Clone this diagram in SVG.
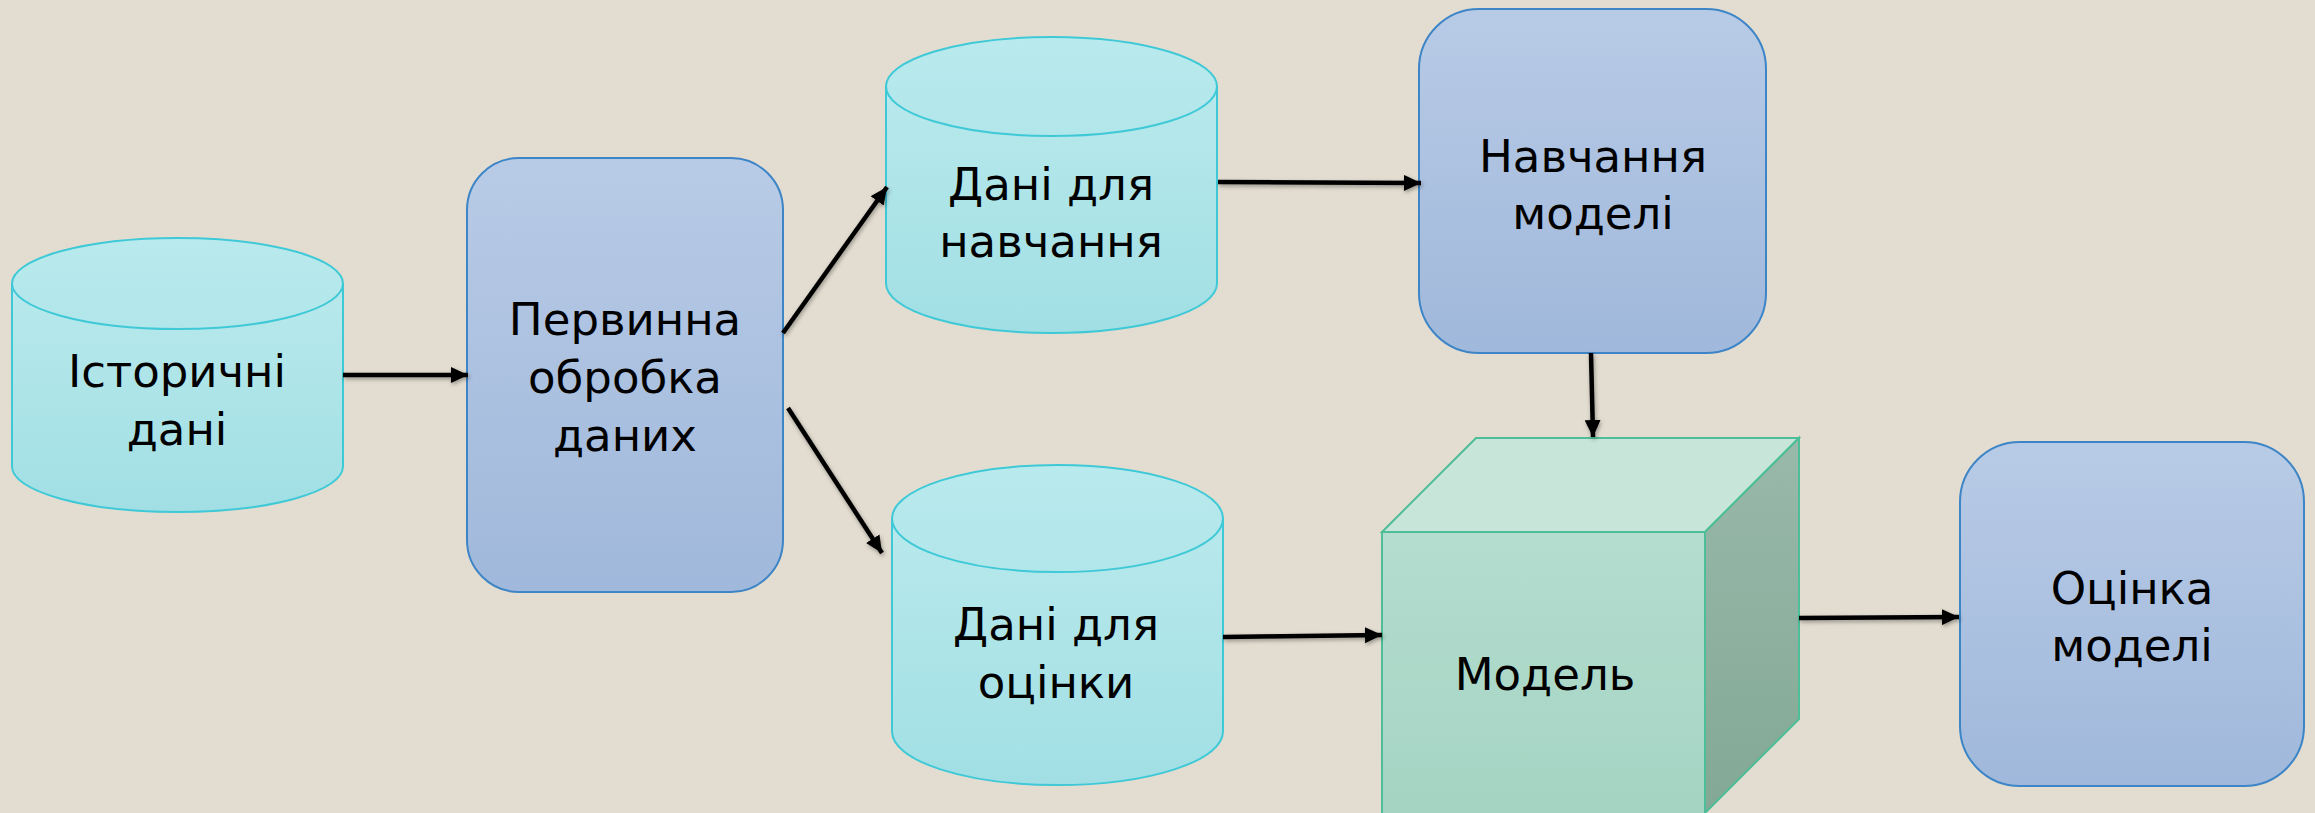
<svg xmlns="http://www.w3.org/2000/svg" width="2315" height="813" viewBox="0 0 2315 813">
  <defs>
    <linearGradient id="gCyl" x1="0" y1="0" x2="0" y2="1">
      <stop offset="0" stop-color="#B8E9EC"/>
      <stop offset="1" stop-color="#A1DFE4"/>
    </linearGradient>
    <linearGradient id="gCylTop" x1="0" y1="0" x2="0" y2="1">
      <stop offset="0" stop-color="#B9EAED"/>
      <stop offset="1" stop-color="#B1E6EA"/>
    </linearGradient>
    <linearGradient id="gBox" x1="0" y1="0" x2="0" y2="1">
      <stop offset="0" stop-color="#B8CBE6"/>
      <stop offset="1" stop-color="#A0B8DB"/>
    </linearGradient>
    <linearGradient id="gFront" x1="0" y1="0" x2="0" y2="1">
      <stop offset="0" stop-color="#B4DDCF"/>
      <stop offset="1" stop-color="#A5D4C3"/>
    </linearGradient>
    <linearGradient id="gSide" x1="0" y1="0" x2="0" y2="1">
      <stop offset="0" stop-color="#99B9AB"/>
      <stop offset="1" stop-color="#83A895"/>
    </linearGradient>
    <marker id="arrow" markerUnits="userSpaceOnUse" markerWidth="20" markerHeight="16" refX="17" refY="8" orient="auto">
      <path d="M0,0 L17,8 L0,16 Z" fill="#000"/>
    </marker>
    <filter id="shadow" x="-20%" y="-20%" width="140%" height="140%">
      <feDropShadow dx="1" dy="2" stdDeviation="2" flood-color="#000" flood-opacity="0.35"/>
    </filter>
  </defs>
  <style>
    .cyl { fill: url(#gCyl); stroke: #3FC9D7; stroke-width: 2; }
    .cyltop { fill: url(#gCylTop); stroke: #3FC9D7; stroke-width: 2; }
    .box { fill: url(#gBox); stroke: #3D85C6; stroke-width: 2; }
    .front { fill: url(#gFront); stroke: #4DBE97; stroke-width: 2; }
    .top { fill: #C8E5DA; stroke: #4DBE97; stroke-width: 2; }
    .side { fill: url(#gSide); stroke: #4DBE97; stroke-width: 2; }
    .lbl { font-family: "DejaVu Sans", "Liberation Sans", sans-serif; font-size: 45px; fill: #000; text-anchor: middle; }
    .edge { stroke: #000; stroke-width: 4.5; fill: none; marker-end: url(#arrow); }
  </style>

  <rect width="2315" height="813" fill="#E3DDD1"/>

  <!-- Historical data store -->
  <g id="historical-data">
    <path class="cyl" d="M12,283.5 L12,466.5 A165.5,45.5 0 0 0 343,466.5 L343,283.5 Z"/>
    <ellipse class="cyltop" cx="177.5" cy="283.5" rx="165.5" ry="45.5"/>
    <text class="lbl" x="177" y="387">Історичні</text>
    <text class="lbl" x="177" y="445">дані</text>
  </g>

  <!-- Preprocessing step -->
  <g id="preprocessing">
    <rect class="box" x="467" y="158" width="316" height="434" rx="52" ry="52"/>
    <text class="lbl" x="625" y="335">Первинна</text>
    <text class="lbl" x="625" y="393">обробка</text>
    <text class="lbl" x="625" y="451">даних</text>
  </g>

  <!-- Training data store -->
  <g id="training-data">
    <path class="cyl" d="M886,86.5 L886,283.5 A165.5,49.5 0 0 0 1217,283.5 L1217,86.5 Z"/>
    <ellipse class="cyltop" cx="1051.5" cy="86.5" rx="165.5" ry="49.5"/>
    <text class="lbl" x="1051" y="200">Дані для</text>
    <text class="lbl" x="1051" y="257">навчання</text>
  </g>

  <!-- Evaluation data store -->
  <g id="evaluation-data">
    <path class="cyl" d="M892,518.5 L892,731.5 A165.5,53.5 0 0 0 1223,731.5 L1223,518.5 Z"/>
    <ellipse class="cyltop" cx="1057.5" cy="518.5" rx="165.5" ry="53.5"/>
    <text class="lbl" x="1056" y="640">Дані для</text>
    <text class="lbl" x="1056" y="698">оцінки</text>
  </g>

  <!-- Model training step -->
  <g id="model-training">
    <rect class="box" x="1419" y="9" width="347" height="344" rx="60" ry="60"/>
    <text class="lbl" x="1593" y="172">Навчання</text>
    <text class="lbl" x="1593" y="229">моделі</text>
  </g>

  <!-- Model (cube) -->
  <g id="model">
    <polygon class="front" points="1382,532 1705,532 1705,816 1382,816"/>
    <polygon class="top" points="1382,532 1476,438 1799,438 1705,532"/>
    <polygon class="side" points="1705,532 1799,438 1799,719 1705,813"/>
    <text class="lbl" x="1545" y="690">Модель</text>
  </g>

  <!-- Model evaluation step -->
  <g id="model-evaluation">
    <rect class="box" x="1960" y="442" width="344" height="344" rx="60" ry="60"/>
    <text class="lbl" x="2132" y="604">Оцінка</text>
    <text class="lbl" x="2132" y="661">моделі</text>
  </g>

  <!-- Connectors -->
  <g id="connectors" filter="url(#shadow)">
    <line class="edge" x1="343" y1="375" x2="468" y2="375"/>
    <line class="edge" x1="783" y1="333" x2="887" y2="187"/>
    <line class="edge" x1="788" y1="408" x2="882" y2="553"/>
    <line class="edge" x1="1218" y1="182" x2="1421" y2="183"/>
    <line class="edge" x1="1223" y1="637" x2="1382" y2="635"/>
    <line class="edge" x1="1591" y1="353" x2="1593" y2="437"/>
    <line class="edge" x1="1799" y1="618" x2="1959" y2="617"/>
  </g>
</svg>
